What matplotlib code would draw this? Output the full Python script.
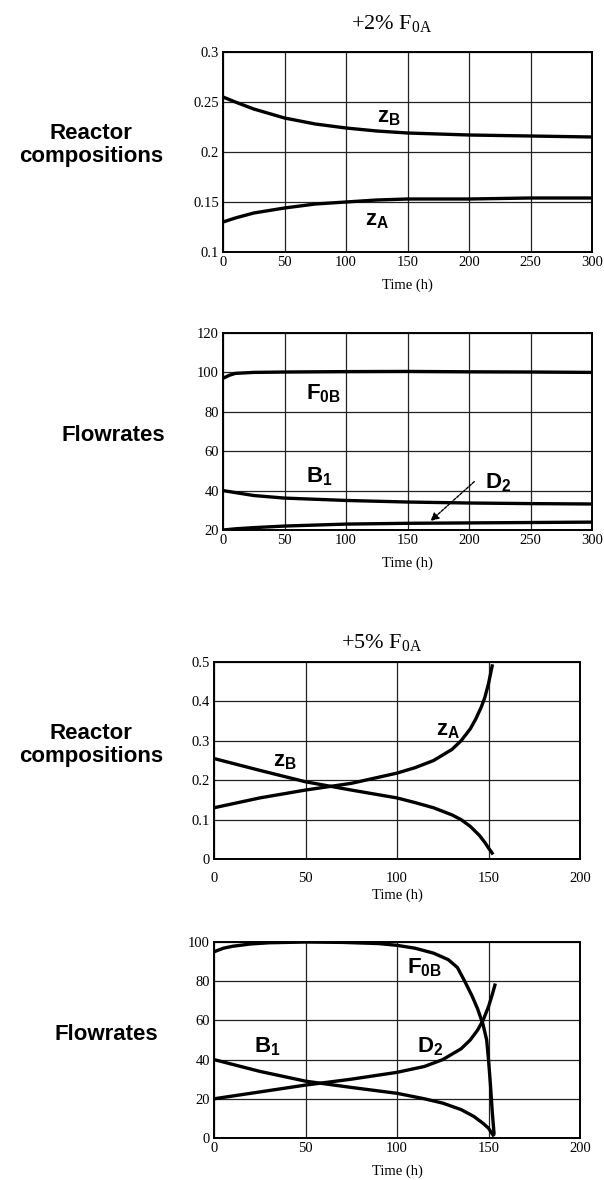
import numpy as np
import matplotlib.pyplot as plt

plt.rcParams['font.family'] = 'Liberation Serif'
plt.rcParams['mathtext.fontset'] = 'custom'
plt.rcParams['mathtext.rm'] = 'Liberation Serif'
plt.rcParams['mathtext.bf'] = 'Liberation Sans:bold'

# +2% F0A : reactor compositions
t2_comp = [0, 10, 25, 50, 75, 100, 125, 150, 200, 250, 300]
zA_2 = [0.130, 0.134, 0.139, 0.144, 0.148, 0.150, 0.152, 0.153, 0.153, 0.154, 0.154]
zB_2 = [0.255, 0.250, 0.243, 0.234, 0.228, 0.224, 0.221, 0.219, 0.217, 0.216, 0.215]

# +2% F0A : flowrates
t2_flow = [0, 5, 10, 25, 50, 100, 150, 200, 250, 300]
F0B_2 = [97.0, 98.5, 99.5, 100.0, 100.2, 100.4, 100.5, 100.3, 100.2, 100.0]
B1_2 = [40.0, 39.5, 39.0, 37.5, 36.2, 35.0, 34.2, 33.7, 33.4, 33.2]
D2_2 = [20.0, 20.3, 20.6, 21.2, 22.0, 23.0, 23.4, 23.6, 23.8, 24.0]

# +5% F0A : reactor compositions
t5_comp = [0, 25, 50, 75, 100, 110, 120, 130, 135, 140, 143, 146, 148, 150, 152]
zA_5 = [0.130, 0.155, 0.175, 0.192, 0.218, 0.232, 0.250, 0.278, 0.300, 0.330, 0.355, 0.385, 0.410, 0.445, 0.490]
t5_compB = [0, 25, 50, 75, 100, 110, 120, 130, 135, 140, 145, 148, 150, 152]
zB_5 = [0.255, 0.225, 0.196, 0.175, 0.155, 0.143, 0.130, 0.112, 0.100, 0.083, 0.060, 0.042, 0.028, 0.015]

# +5% F0A : flowrates
t5_F0B = [0, 5, 10, 20, 30, 50, 70, 90, 100, 110, 120, 128, 133, 137, 141, 144, 147, 149, 150, 151, 152, 153]
F0B_5 = [95.0, 96.8, 97.8, 99.0, 99.6, 100.0, 99.8, 99.2, 98.3, 96.8, 94.3, 91.0, 87.0, 80.0, 72.5, 66.0, 58.0, 50.0, 40.0, 28.0, 14.0, 2.5]
t5_D2 = [0, 25, 50, 75, 100, 115, 125, 135, 140, 144, 147, 150, 152, 153.5]
D2_5 = [20.0, 23.5, 27.0, 30.0, 33.5, 36.5, 40.0, 45.5, 50.0, 55.0, 60.0, 67.0, 73.0, 78.0]
t5_B1 = [0, 25, 50, 75, 100, 115, 125, 135, 142, 147, 150, 152.5]
B1_5 = [40.0, 34.0, 29.0, 25.8, 22.8, 20.0, 17.8, 14.5, 11.0, 7.5, 5.0, 1.5]

fig = plt.figure(figsize=(6.04, 11.8), dpi=100)
W, H = 604.0, 1180.0


def make_ax(x0, y0, x1, y1):
    return fig.add_axes([x0 / W, 1 - y1 / H, (x1 - x0) / W, (y1 - y0) / H])


def style(ax, xmax, xstep, ymin, ymax, ystep, ylabels, xpad=3, lpad=7):
    ax.set_xlim(0, xmax)
    ax.set_ylim(ymin, ymax)
    ax.set_xticks(np.arange(0, xmax + 1, xstep))
    yt = np.arange(ymin, ymax + ystep / 2, ystep)
    ax.set_yticks(yt)
    ax.set_yticklabels(ylabels)
    ax.grid(True, color='#222222', linewidth=0.9)
    ax.tick_params(length=0, labelsize=10.5, pad=3, colors='black')
    ax.tick_params(axis='x', pad=xpad)
    for s in ax.spines.values():
        s.set_linewidth(1.4)
    ax.set_xlabel('Time (h)', fontsize=10.5, labelpad=lpad)


lw = 2.4
lab = dict(fontsize=16, ha='center', va='center')
side = dict(fontsize=16, fontweight='bold', family='Liberation Sans', ha='right',
            va='center', multialignment='center', linespacing=1.15)
ttl = dict(fontsize=16, ha='center', va='center')

# panel 1
ax1 = make_ax(223, 52, 592, 252)
ax1.plot(t2_comp, zB_2, color='black', lw=lw)
ax1.plot(t2_comp, zA_2, color='black', lw=lw)
style(ax1, 300, 50, 0.1, 0.3, 0.05, ['0.1', '0.15', '0.2', '0.25', '0.3'])
ax1.text(135, 0.234, r'$\mathbf{z}_\mathbf{B}$', **lab)
ax1.text(125, 0.131, r'$\mathbf{z}_\mathbf{A}$', **lab)
fig.text(392 / W, 1 - 24 / H, r'+2% F$_{\mathrm{0A}}$', **ttl)
fig.text(163 / W, 1 - 145 / H, 'Reactor\ncompositions', **side)

# panel 2
ax2 = make_ax(223, 333, 592, 530)
ax2.plot(t2_flow, F0B_2, color='black', lw=lw)
ax2.plot(t2_flow, B1_2, color='black', lw=lw)
ax2.plot(t2_flow, D2_2, color='black', lw=lw)
style(ax2, 300, 50, 20, 120, 20, ['20', '40', '60', '80', '100', '120'])
ax2.text(82, 89, r'$\mathbf{F}_\mathbf{0B}$', **lab)
ax2.text(78, 47, r'$\mathbf{B}_\mathbf{1}$', **lab)
ax2.text(224, 44, r'$\mathbf{D}_\mathbf{2}$', **lab)
ax2.annotate('', xy=(167, 23.6), xytext=(206, 45.5),
             arrowprops=dict(arrowstyle='-|>', color='black', lw=1.0,
                             linestyle=(0, (2, 1)), mutation_scale=12))
fig.text(165 / W, 1 - 436 / H, 'Flowrates', **side)

# panel 3
ax3 = make_ax(214, 662, 580, 859)
ax3.plot(t5_comp, zA_5, color='black', lw=lw)
ax3.plot(t5_compB, zB_5, color='black', lw=lw)
style(ax3, 200, 50, 0, 0.5, 0.1, ['0', '0.1', '0.2', '0.3', '0.4', '0.5'], xpad=9, lpad=3)
ax3.text(128, 0.325, r'$\mathbf{z}_\mathbf{A}$', **lab)
ax3.text(39, 0.245, r'$\mathbf{z}_\mathbf{B}$', **lab)
fig.text(382 / W, 1 - 643 / H, r'+5% F$_{\mathrm{0A}}$', **ttl)
fig.text(163 / W, 1 - 745 / H, 'Reactor\ncompositions', **side)

# panel 4
ax4 = make_ax(214, 942, 580, 1138)
ax4.plot(t5_F0B, F0B_5, color='black', lw=lw)
ax4.plot(t5_D2, D2_5, color='black', lw=lw)
ax4.plot(t5_B1, B1_5, color='black', lw=lw)
style(ax4, 200, 50, 0, 100, 20, ['0', '20', '40', '60', '80', '100'])
ax4.text(115, 87, r'$\mathbf{F}_\mathbf{0B}$', **lab)
ax4.text(118, 46.5, r'$\mathbf{D}_\mathbf{2}$', **lab)
ax4.text(29, 46.5, r'$\mathbf{B}_\mathbf{1}$', **lab)
fig.text(158 / W, 1 - 1035 / H, 'Flowrates', **side)

fig.savefig('out.png', dpi=100)
